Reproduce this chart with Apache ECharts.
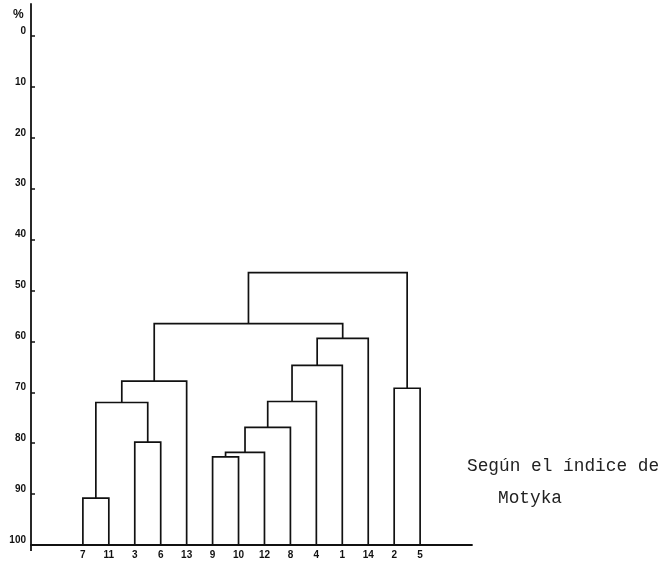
<!DOCTYPE html>
<html>
<head>
<meta charset="utf-8">
<script src="https://cdn.jsdelivr.net/npm/echarts@6/dist/echarts.min.js"></script>
<style>
  html, body { margin: 0; padding: 0; background: #fff; }
  #chart { width: 667px; height: 565px; }
</style>
</head>
<body>
<div id="chart"></div>
<script>
// Leaves of the dendrogram, left to right
const leafLabels = ['7', '11', '3', '6', '13', '9', '10', '12', '8', '4', '1', '14', '2', '5'];

// Agglomeration steps: ids < 14 are leaves, id 14 + k is the cluster built at step k
const mergeLeft   = [0, 2, 14, 16, 5, 18, 19, 20, 21, 22, 17, 12, 24];
const mergeRight  = [1, 3, 15, 4, 6, 7, 8, 9, 10, 11, 23, 13, 25];
const mergeLevel  = [90.8, 79.8, 72.0, 67.8, 82.7, 81.8, 76.9, 71.8, 64.7, 59.4, 56.5, 69.2, 46.5];

// Similarity scale ticks (%)
const yTicks = [0, 10, 20, 30, 40, 50, 60, 70, 80, 90, 100];

// Node positions: leaves sit on 100 %, clusters at their merge level,
// horizontally centred over their two children
const nLeaves = leafLabels.length;
const nodeX = leafLabels.map((_, i) => i);
const nodeY = leafLabels.map(() => 100);
const links = [];
mergeLevel.forEach((lv, k) => {
  const a = mergeLeft[k], b = mergeRight[k];
  links.push([nodeX[a], nodeX[b], lv, nodeY[a], nodeY[b]]);
  nodeX[nLeaves + k] = (nodeX[a] + nodeX[b]) / 2;
  nodeY[nLeaves + k] = lv;
});

const ink = '#111';
const chart = echarts.init(document.getElementById('chart'), null, { renderer: 'canvas' });
chart.setOption({
  backgroundColor: '#fff',
  animation: false,
  title: {
    text: '%', left: 8, top: 4,
    textStyle: { fontFamily: 'Liberation Sans', fontWeight: 'bold', fontSize: 12, color: ink }
  },
  grid: { left: 31, right: 195, top: 4, bottom: 20 },
  xAxis: {
    type: 'value', min: -2, max: 15,
    splitLine: { show: false },
    axisLine: { show: true, onZero: false, lineStyle: { color: ink, width: 1.8 } },
    axisTick: { show: true, customValues: [-2], length: 6, lineStyle: { color: ink, width: 1.8 } },
    axisLabel: {
      customValues: leafLabels.map((_, i) => i),
      formatter: v => leafLabels[Math.round(v)],
      margin: 5,
      fontFamily: 'Liberation Sans', fontWeight: 'bold', fontSize: 10, color: ink
    }
  },
  yAxis: {
    type: 'value', inverse: true, min: -6.3, max: 100,
    splitLine: { show: false },
    axisLine: { show: true, onZero: false, lineStyle: { color: ink, width: 1.8 } },
    axisTick: { show: true, inside: true, length: 4, customValues: yTicks, lineStyle: { color: ink, width: 1.5 } },
    axisLabel: {
      customValues: yTicks,
      verticalAlign: 'bottom',
      margin: 5,
      fontFamily: 'Liberation Sans', fontWeight: 'bold', fontSize: 10, color: ink
    }
  },
  series: [{
    type: 'custom',
    data: links,
    encode: { x: [0, 1], y: [2, 3, 4] },
    renderItem: (params, api) => {
      const pL0 = api.coord([api.value(0), api.value(3)]);
      const pL1 = api.coord([api.value(0), api.value(2)]);
      const pR1 = api.coord([api.value(1), api.value(2)]);
      const pR0 = api.coord([api.value(1), api.value(4)]);
      return {
        type: 'polyline',
        shape: { points: [pL0, pL1, pR1, pR0] },
        style: { stroke: ink, lineWidth: 1.7, fill: null, lineJoin: 'miter' }
      };
    }
  }],
  graphic: [
    {
      type: 'text', left: 467, top: 457,
      style: { text: 'Según el índice de', font: '17.8px "Liberation Mono"', fill: '#222' }
    },
    {
      type: 'text', left: 498, top: 489,
      style: { text: 'Motyka', font: '17.8px "Liberation Mono"', fill: '#222' }
    }
  ]
});
</script>
</body>
</html>
